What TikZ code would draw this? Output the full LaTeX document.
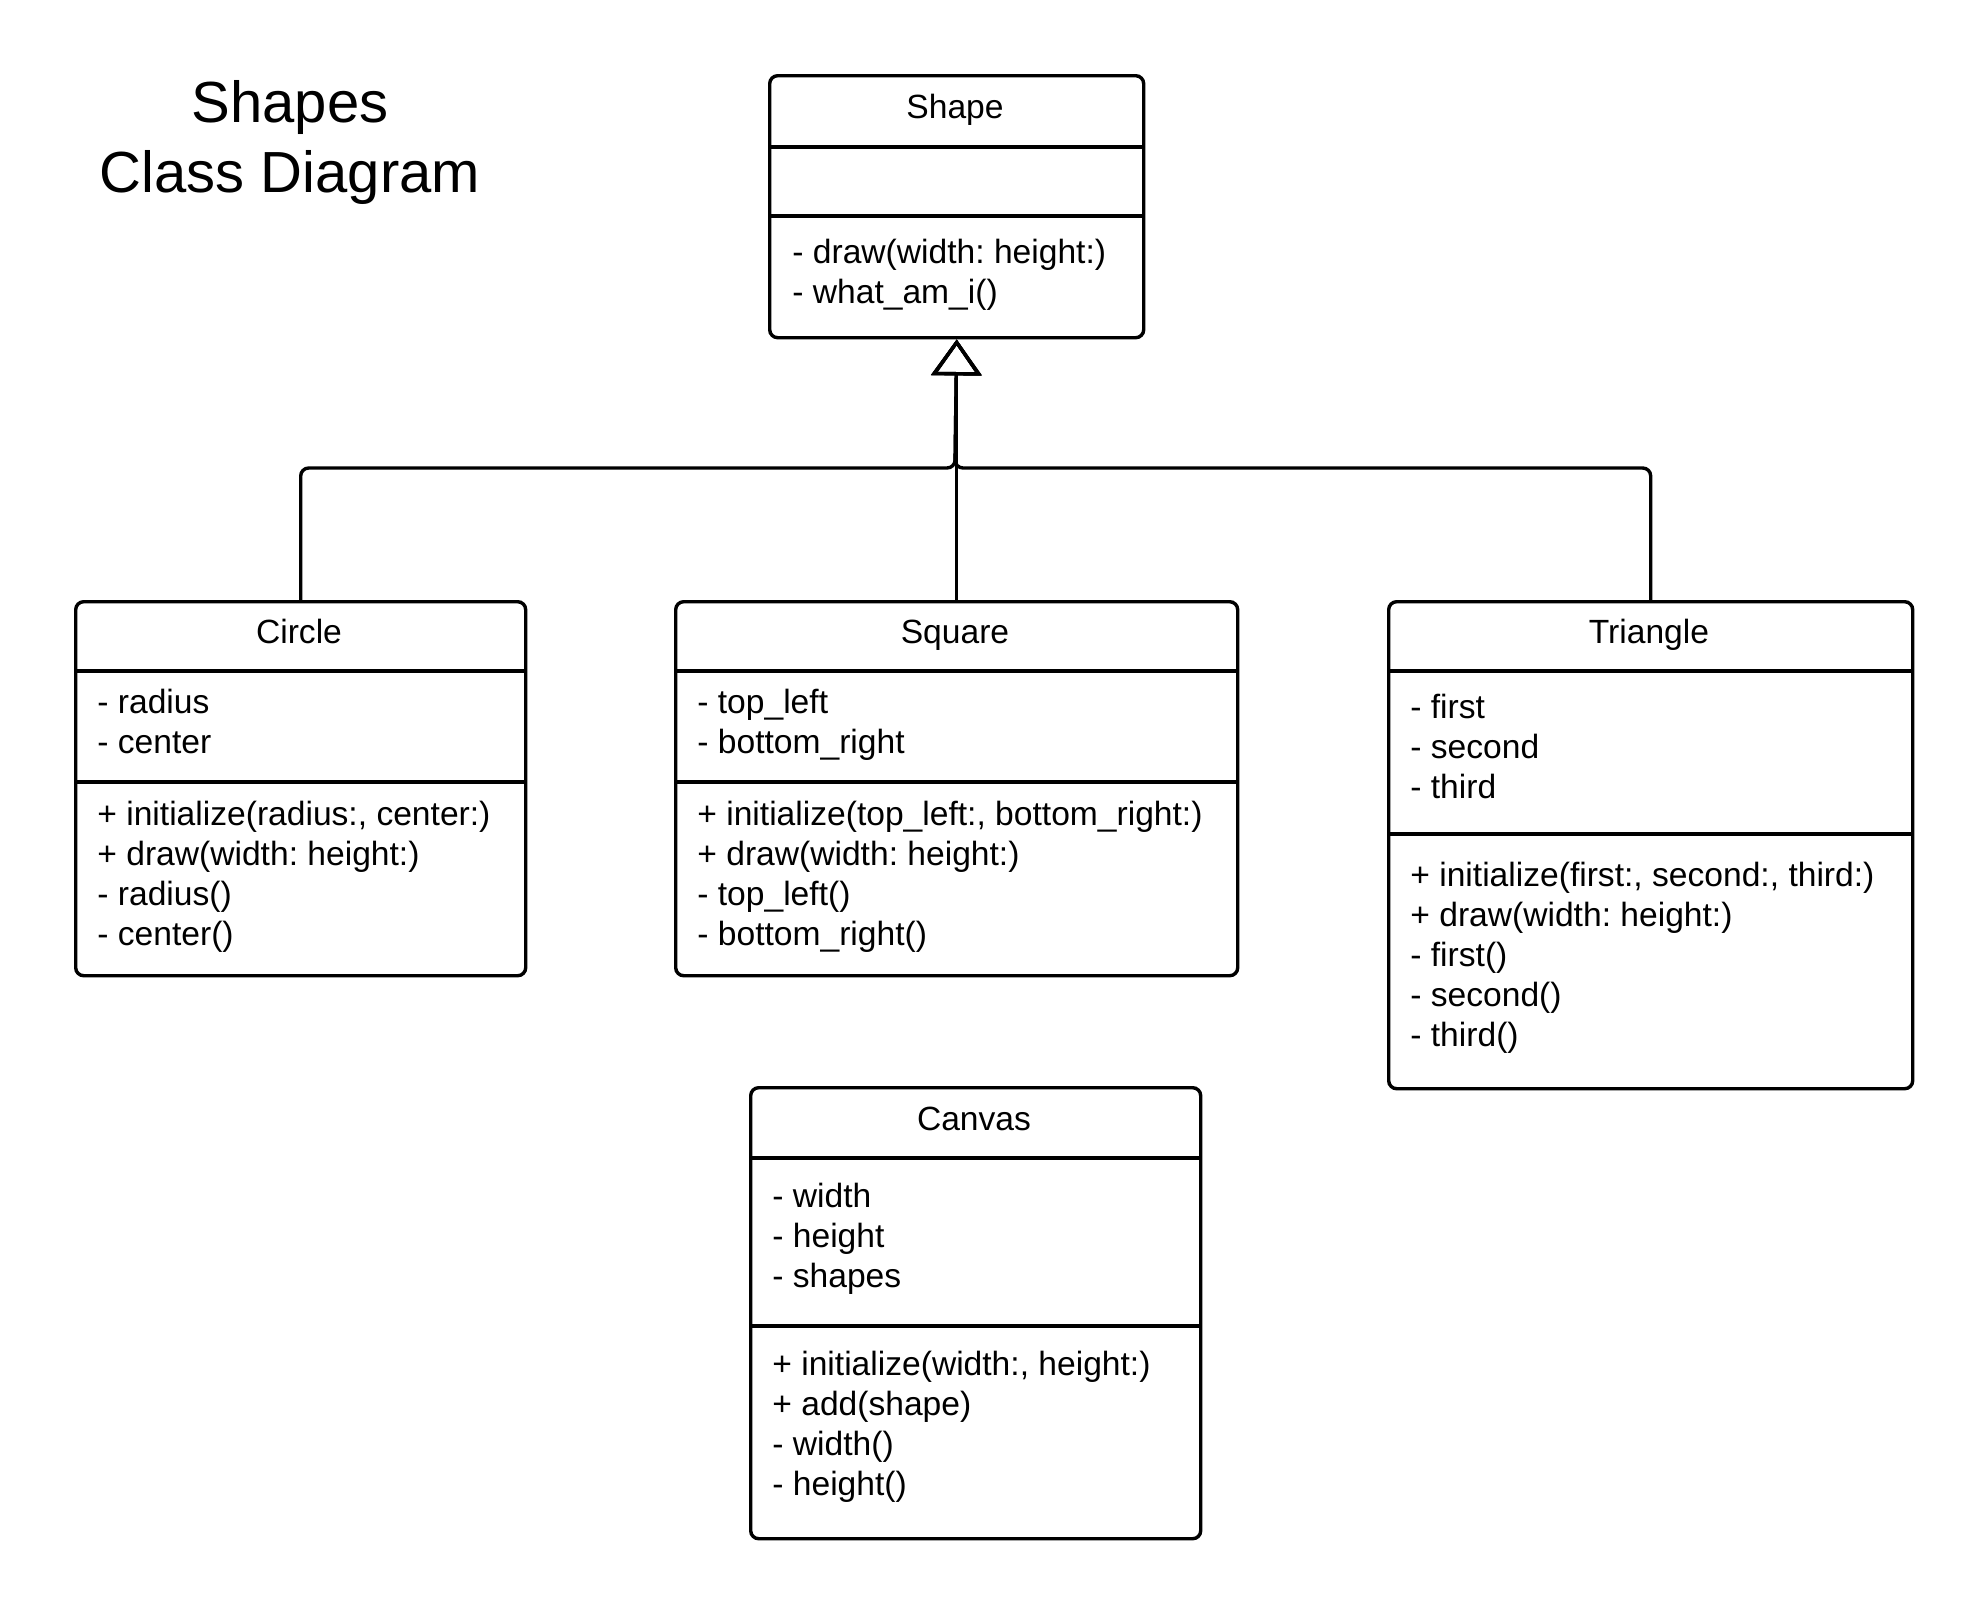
\documentclass[tikz,border=0pt]{standalone}
\usepackage{fontspec}
\setmainfont{Liberation Sans}
\usetikzlibrary{arrows.meta}
\frenchspacing

\tikzset{
	classbox/.style={draw=black, line width=1.7pt, rounded corners=4pt,
					 anchor=north west, inner sep=0pt},
	classname/.style={anchor=base, inner sep=0pt,
					  font=\fontsize{16.8}{20}\selectfont},
	members/.style={anchor=north west, align=left, inner sep=0pt,
					font=\fontsize{16.8}{20}\selectfont},
	divider/.style={line width=1.7pt},
	inherit/.style={line width=1.7pt, rounded corners=4pt,
					-{Triangle[open, length=18pt, width=25pt]}}
}

\begin{document}
\begin{tikzpicture}[x=0.5pt, y=-0.5pt]
	\useasboundingbox (0,0) rectangle (1988,1613);

	\draw (290,80) node[anchor=north, align=center, inner sep=0pt,
					   font=\fontsize{29}{35}\selectfont](title){Shapes\\Class Diagram};

	\draw (768,74) node[classbox, minimum width=187pt, minimum height=131pt](shape){};
	\draw (955,118) node[classname](shape-name){Shape};
	\draw[divider] (768,147) -- (1142,147);
	\draw[divider] (768,216) -- (1142,216);
	\draw (792,239) node[members](shape-ops){- draw(width: height:)\\- what\_am\_i()};

	\draw (74,600) node[classbox, minimum width=225pt, minimum height=187pt](circle){};
	\draw (299,643) node[classname](circle-name){Circle};
	\draw[divider] (74,671) -- (524,671);
	\draw[divider] (74,782) -- (524,782);
	\draw (97,689) node[members](circle-attr){- radius\\- center};
	\draw (97,801) node[members](circle-ops){+ initialize(radius:, center:)\\
		+ draw(width: height:)\\- radius()\\- center()};

	\draw (674,600) node[classbox, minimum width=281pt, minimum height=187pt](square){};
	\draw (955,643) node[classname](square-name){Square};
	\draw[divider] (674,671) -- (1236,671);
	\draw[divider] (674,782) -- (1236,782);
	\draw (697,689) node[members](square-attr){- top\_left\\- bottom\_right};
	\draw (697,801) node[members](square-ops){+ initialize(top\_left:, bottom\_right:)\\
		+ draw(width: height:)\\- top\_left()\\- bottom\_right()};

	\draw (1387,600) node[classbox, minimum width=262pt, minimum height=243.5pt](triangle){};
	\draw (1649,643) node[classname](triangle-name){Triangle};
	\draw[divider] (1387,671) -- (1911,671);
	\draw[divider] (1387,834) -- (1911,834);
	\draw (1410,694) node[members](triangle-attr){- first\\- second\\- third};
	\draw (1410,862) node[members](triangle-ops){+ initialize(first:, second:, third:)\\
		+ draw(width: height:)\\- first()\\- second()\\- third()};

	\draw (749,1086) node[classbox, minimum width=225pt, minimum height=225.5pt](canvas){};
	\draw (974,1130) node[classname](canvas-name){Canvas};
	\draw[divider] (749,1158) -- (1199,1158);
	\draw[divider] (749,1326) -- (1199,1326);
	\draw (772,1183) node[members](canvas-attr){- width\\- height\\- shapes};
	\draw (772,1351) node[members](canvas-ops){+ initialize(width:, height:)\\
		+ add(shape)\\- width()\\- height()};

	\coordinate (bus) at (955,468);
	\draw [inherit](circle.north) |- (bus) -- (shape.south);
	\draw [inherit](triangle.north) |- (bus) -- (shape.south);
	\draw [inherit](square.north) -- (shape.south);
\end{tikzpicture}
\end{document}
